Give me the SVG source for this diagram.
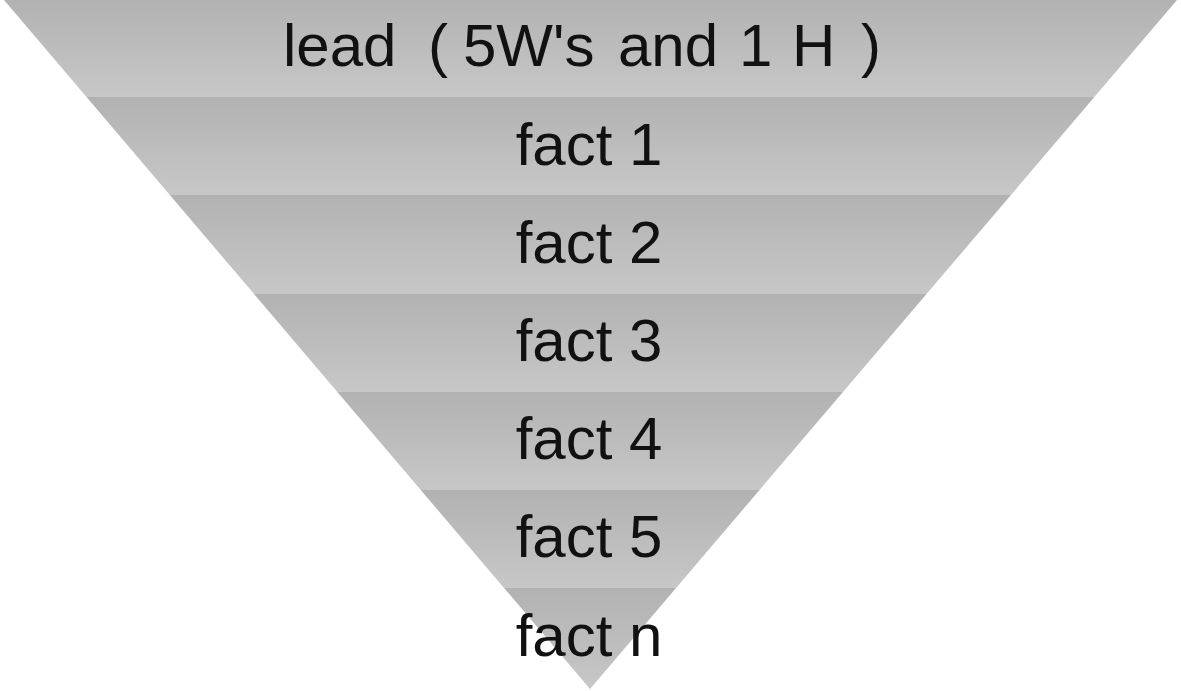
<svg xmlns="http://www.w3.org/2000/svg" width="1181" height="691" viewBox="0 0 1181 691">
<defs>
<linearGradient id="band" x1="0" y1="0" x2="0" y2="1">
<stop offset="0" stop-color="#b2b2b2"/>
<stop offset="1" stop-color="#c7c7c7"/>
</linearGradient>
<clipPath id="tri"><polygon points="4,0 1177,0 590,689"/></clipPath>
</defs>
<style>
.band{fill:url(#band)}
.lbl{font-family:"Liberation Sans",Arial,sans-serif;font-size:60px;fill:#111;text-anchor:middle}
.lead{text-anchor:start}
</style>
<rect width="1181" height="691" fill="#fff"/>
<g clip-path="url(#tri)">
<g id="lead"><rect class="band" x="0" y="0" width="1181" height="97"/></g>
<g id="fact1"><rect class="band" x="0" y="97" width="1181" height="98"/></g>
<g id="fact2"><rect class="band" x="0" y="195" width="1181" height="99"/></g>
<g id="fact3"><rect class="band" x="0" y="294" width="1181" height="98"/></g>
<g id="fact4"><rect class="band" x="0" y="392" width="1181" height="98"/></g>
<g id="fact5"><rect class="band" x="0" y="490" width="1181" height="98"/></g>
<g id="factn"><rect class="band" x="0" y="588" width="1181" height="101"/></g>
</g>
<g id="labels">
<text class="lbl lead" y="66"><tspan x="283">lead </tspan><tspan x="428">( </tspan><tspan x="463">5W's </tspan><tspan x="618">and </tspan><tspan x="739">1 </tspan><tspan x="792">H </tspan><tspan x="861">)</tspan></text>
<text class="lbl" x="589" y="165">fact 1</text>
<text class="lbl" x="589" y="263">fact 2</text>
<text class="lbl" x="589" y="361">fact 3</text>
<text class="lbl" x="589" y="459">fact 4</text>
<text class="lbl" x="589" y="557">fact 5</text>
<text class="lbl" x="589" y="656">fact n</text>
</g>
<g id="connectors"/>
</svg>
